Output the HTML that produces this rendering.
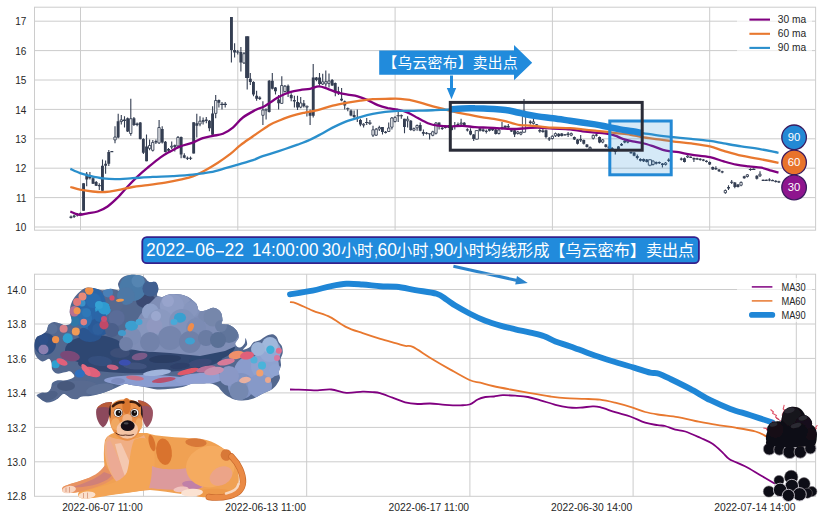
<!DOCTYPE html>
<html><head><meta charset="utf-8"><title>chart</title>
<style>html,body{margin:0;padding:0;background:#fff}body{width:822px;height:520px;overflow:hidden;font-family:"Liberation Sans",sans-serif}svg{display:block}</style></head>
<body>
<svg width="822" height="520" viewBox="0 0 822 520" font-family="Liberation Sans, sans-serif">
<rect width="822" height="520" fill="#fff"/>
<path d="M34.5 227H815.6M34.5 197.6H815.6M34.5 168.2H815.6M34.5 138.8H815.6M34.5 109.4H815.6M34.5 80H815.6M34.5 50.6H815.6M34.5 21.2H815.6M80.5 7.2V230.2M237.8 7.2V230.2M395.1 7.2V230.2M552.4 7.2V230.2M709.7 7.2V230.2M34.5 461.8H815.6M34.5 427.4H815.6M34.5 392.9H815.6M34.5 358.4H815.6M34.5 324H815.6M34.5 289.5H815.6M143.5 274.2V496.3M306.7 274.2V496.3M469.9 274.2V496.3M633.1 274.2V496.3M796.3 274.2V496.3" stroke="#cccccc" stroke-width="1" fill="none"/>
<g id="candles">
<path d="M71 215.5V218.5M74.1 214.5V218M77.3 213V216.5M80.4 212.5V215M83.6 183.2V210.8M86.7 171.9V186.3M89.9 171.9V179.4M93 177V184M96.2 181V186M99.3 183.2V190M102.5 159.4V190.7M105.6 160.6V173.8M108.8 150V166M111.9 151V152M115 126.3V143.3M118.2 113.8V138.2M121.3 115V124.5M124.5 116.3V127.6M127.6 117.5V132M130.8 98.8V135.7M133.9 117V126M137.1 122.6V126.3M140.2 122V139.5M143.4 138.2V153.9M146.5 134.5V161.3M149.6 139.5V150.2M152.8 140V151.5M155.9 139.5V143.9M159.1 120V143.9M162.2 126.3V143.5M165.4 141V152.5M168.5 148V152.5M171.7 141.4V148.9M174.8 144.5V151.4M178 136V147M181.1 136.5V158.3M184.3 153.3V158.3M187.4 156.5V160M185.7 158.3H189.1M190.5 156.4V160M188.8 158.3H192.2M193.7 122.3V153.6M196.8 113.8V137.6M200 116.3V126.3M203.1 117.6V124.4M206.3 116.9V123.2M209.4 120V131.3M212.6 106.3V135.1M215.7 95V118.2M218.9 99.4V107.5M222 101.9V109.4M220.3 104.4H223.7M225.2 101.9V107.5M223.5 104.4H226.9M231.4 16.9V62.6M234.6 43.2V57.6M237.7 50V54.5M236 52H239.4M240.9 47V71.4M244 52V64M247.2 36.3V89.4M250.3 73.1V85M253.5 81.3V96.3M256.6 90.7V100.7M259.8 96.3V100M262.9 101.3V125.1M266.1 108.8V119.5M269.2 80V112.6M272.3 73.1V89.4M275.5 86.9V94.4M278.6 95V109.5M281.8 76.3V103.8M284.9 85V92.6M288.1 84.4V96.9M291.2 93.2V101.3M294.4 95.7V107.6M297.5 95.7V110.1M300.7 97V108.2M303.8 100V107.6M306.9 105.7V116.4M310.1 109.5V125.1M313.2 63.9V117.6M316.4 76.9V81.3M319.5 73.1V85.7M322.7 73.8V85M325.8 70.5V86.8M329 73.6V87.4M332.1 79V86M335.3 82.4V96.2M338.4 86.8V94.9M341.6 88V101.2M344.7 100.6V109.4M347.8 107.5V111.2M346.1 108.7H349.5M351 109.4V116.2M354.1 110.6V120M357.3 109.4V121.9M360.4 118.8V126.3M363.6 123.2V127.5M366.7 118.1V125M365 122.5H368.4M369.9 120V125M368.2 123.1H371.6M373 125.7V137M376.2 128V136M379.3 125.7V131M382.5 127V134.5M385.6 131V133.5M388.7 122.6V132M391.9 117V129.5M395 116.2V122.5M398.2 111.9V121.9M396.5 115.7H399.9M401.3 114.4V118.8M399.6 115.7H403M404.5 118.8V133.2M407.6 116.3V127.6M410.8 120V130.7M413.9 127.6V131.3M417.1 124.4V130.7M420.2 122.6V131.3M423.4 129.4V135.7M426.5 132V134.5M424.8 133.2H428.2M429.6 133.2V139.5M427.9 133.8H431.3M432.8 130.7V136.3M435.9 122V134.5M439.1 122.6V129.4M442.2 126.5V130M445.4 125.5V128.5M448.5 125V128M451.7 126.5V130.5M454.8 122V129.5M458 122.5V126.5M461.1 118.8V125M464.2 122V126M467.4 128.3V131.5M470.5 128.3V135.2M473.7 134V140.9M476.8 130.2V139.6M480 127.7V131.4M483.1 128.3V132.1M486.3 129.6V133.4M489.4 128.5V131.5M492.6 128.5V131M495.7 129V134.6M498.9 129V134.6M502 122V129.6M505.1 125.5V128.5M508.3 124V128.3M511.4 129.5V132M514.6 129.6V137M517.7 131V134.6M520.9 131.4V135.2M524 98.9V132.7M530.3 120.2V124.6M533.5 118.3V124.6M536.6 124V125.2M539.8 129V132.7M542.9 129V132.7M546 129.6V138.4M549.2 137.1V140.9M552.3 135.2V139.6M555.5 132.6V137M558.6 133.2V136.9M561.8 133V136.5M564.9 134V135.5M568.1 132V137M571.2 132.5V136.3M574.4 136.5V140M577.5 139V144.5M580.7 135V142M583.8 139.5V144.4M586.9 144V147.6M590.1 146.5V150M593.2 134.5V139.4M596.4 134V136.5M599.5 136.4V143.2M602.7 139V143.2M605.8 144V147.6M609 146V149M612.1 147V151M615.3 148.9V154.5M618.4 146V150.7M621.5 143V146M624.7 140.2V143.2M627.8 140.2V143.2M631 151.5V153.8M634.1 152V156.3M637.3 154.5V159.5M640.4 158.3V161.4M643.6 158.5V162M646.7 159V162.6M649.9 159V166.3M653 160.2V165.6M656.2 161.5V164.5M659.3 161.5V164M662.4 163V167.5M665.6 162V165.6M668.7 158.2V162M681.3 157.5V160.5M684.5 157.6V162.6M687.6 155.2V158M690.8 156.3V158M693.9 157.5V162M697.1 157.7V160M700.2 158.3V160.7M703.3 159V161.3M706.5 160.2V162.6M709.6 161.5V165M712.8 166.5V170M715.9 166.3V170.1M719.1 169V172M722.2 170.8V173.2M725.4 189.5V193.8M728.5 185.2V190.1M731.7 180V184M730 182.2H733.4M734.8 182V188.2M738 184V187.6M741.1 181.5V186.3M744.2 175.8V178.8M747.4 174V177.6M750.5 168.2V170.7M748.8 169.5H752.2M753.7 168.2V170.1M752 169.4H755.4M756.8 175.2V179.4M760 171.3V177M763.1 179.5V180.7M766.3 179.5V180.7M769.4 178.2V181.3M767.7 180H771.1M772.6 179.5V181M775.7 180.2V182.5M778.9 180.8V183.1" stroke="#343e52" stroke-width="1.1" fill="none"/>
<path d="M69.5 216.6h2.9v1.3h-2.9zM82.1 183.2h2.9v27.6h-2.9zM85.3 173.8h2.9v5.6h-2.9zM88.4 175h2.9v3.2h-2.9zM91.6 178.2h2.9v5.6h-2.9zM94.7 182h2.9v3.7h-2.9zM97.9 185h2.9v1.3h-2.9zM101 165.7h2.9v25h-2.9zM104.2 163.8h2.9v1.9h-2.9zM107.3 152h2.9v11.8h-2.9zM110.4 151h2.9v1.3h-2.9zM116.7 121.3h2.9v16.3h-2.9zM123 119.5h2.9v1.5h-2.9zM126.2 118.2h2.9v13.2h-2.9zM132.5 118.2h2.9v6.9h-2.9zM135.6 123.5h2.9v1.5h-2.9zM138.8 122.6h2.9v16.3h-2.9zM141.9 138.9h2.9v13.8h-2.9zM145.1 146.4h2.9v14.9h-2.9zM154.5 141h2.9v1.5h-2.9zM160.8 129h2.9v13.5h-2.9zM163.9 141.7h2.9v10.3h-2.9zM167.1 148.9h2.9v1.9h-2.9zM179.7 137h2.9v17.5h-2.9zM182.8 155.2h2.9v2.5h-2.9zM192.2 122.3h2.9v31.3h-2.9zM195.4 123.2h2.9v2.5h-2.9zM204.8 119.5h2.9v1.5h-2.9zM208 120.7h2.9v7.5h-2.9zM211.1 113.5h2.9v21.3h-2.9zM217.4 100h2.9v2.8h-2.9zM230 16.9h2.9v33.2h-2.9zM233.1 50.1h2.9v2.5h-2.9zM239.4 52h2.9v10.6h-2.9zM245.1 36.3h4.2v41.8h-4.2zM248.9 78.8h2.9v3.1h-2.9zM252 81.9h2.9v12.5h-2.9zM255.2 95.7h2.9v3.1h-2.9zM258.3 97.5h2.9v1.5h-2.9zM267.7 80.7h2.9v31.3h-2.9zM270.9 80.7h2.9v8.1h-2.9zM274 87.5h2.9v3.8h-2.9zM277.2 99.4h2.9v3.8h-2.9zM286.6 85.7h2.9v6.9h-2.9zM289.8 95h2.9v3.2h-2.9zM292.9 100h2.9v1.5h-2.9zM296.1 102h2.9v5.6h-2.9zM302.4 103.2h2.9v3.1h-2.9zM308.6 112h2.9v3.7h-2.9zM311.8 77.5h2.9v38.2h-2.9zM314.9 77.5h2.9v2.5h-2.9zM318.1 77.5h2.9v6.5h-2.9zM330.7 79.9h2.9v5.6h-2.9zM333.8 83h2.9v9.4h-2.9zM337 91.2h2.9v1.9h-2.9zM340.1 98.7h2.9v1.9h-2.9zM343.3 101.2h2.9v4.4h-2.9zM349.5 110.6h2.9v5h-2.9zM352.7 115h2.9v1.9h-2.9zM355.8 117h2.9v1.5h-2.9zM359 120h2.9v4.4h-2.9zM381 127h2.9v5h-2.9zM384.1 131.7h2.9v1.3h-2.9zM403 118.8h2.9v8.2h-2.9zM409.3 120.7h2.9v9.4h-2.9zM418.8 125h2.9v5.7h-2.9zM421.9 132h2.9v1.8h-2.9zM437.6 122.6h2.9v3.1h-2.9zM440.8 127.8h2.9v1.3h-2.9zM443.9 126.6h2.9v1.3h-2.9zM447.1 126h2.9v1.3h-2.9zM450.2 127h2.9v3h-2.9zM453.4 125.5h2.9v1.5h-2.9zM456.5 124h2.9v1.3h-2.9zM462.8 122.7h2.9v2.5h-2.9zM465.9 129.3h2.9v1.3h-2.9zM469.1 130.8h2.9v3.8h-2.9zM472.2 134.6h2.9v4.4h-2.9zM478.5 128.3h2.9v2.5h-2.9zM481.7 129.5h2.9v1.5h-2.9zM484.8 130.8h2.9v1.3h-2.9zM488 129h2.9v1.8h-2.9zM491.1 129h2.9v1.3h-2.9zM494.3 129.6h2.9v4.4h-2.9zM500.6 127h2.9v1.5h-2.9zM503.7 125.8h2.9v1.9h-2.9zM506.8 126h2.9v1.5h-2.9zM510 130.2h2.9v1.3h-2.9zM513.1 130.2h2.9v4.4h-2.9zM528.9 121.5h2.9v1.5h-2.9zM535.2 124.2h2.9v1.3h-2.9zM538.3 130h2.9v1.5h-2.9zM541.4 130.5h2.9v1.5h-2.9zM544.6 130.2h2.9v6.9h-2.9zM547.7 138.2h2.9v1.3h-2.9zM557.2 133.8h2.9v2.5h-2.9zM560.3 133.5h2.9v2.5h-2.9zM563.5 134.3h2.9v1.3h-2.9zM566.6 133.5h2.9v1.5h-2.9zM572.9 137h2.9v2.5h-2.9zM576.1 139.5h2.9v4.3h-2.9zM579.2 139h2.9v1.5h-2.9zM582.3 140h2.9v3.8h-2.9zM585.5 144.5h2.9v2.5h-2.9zM594.9 134.5h2.9v1.3h-2.9zM598.1 137h2.9v5.6h-2.9zM604.4 144.5h2.9v2.5h-2.9zM607.5 146.8h2.9v1.4h-2.9zM610.7 148h2.9v2h-2.9zM613.8 150h2.9v2h-2.9zM617 146.4h2.9v3.7h-2.9zM620.1 144h2.9v1.5h-2.9zM623.2 140.7h2.9v1.9h-2.9zM629.5 152h2.9v1.3h-2.9zM632.7 152.6h2.9v3.1h-2.9zM635.8 156h2.9v2h-2.9zM639 158.9h2.9v1.9h-2.9zM642.1 159h2.9v2.3h-2.9zM645.3 159.5h2.9v2.5h-2.9zM654.7 162h2.9v1.8h-2.9zM657.9 162h2.9v1.3h-2.9zM661 163.5h2.9v1.5h-2.9zM667.3 159.5h2.9v1.5h-2.9zM679.9 158.5h2.9v1.3h-2.9zM683 158.2h2.9v3.8h-2.9zM689.3 156.8h2.9v1.3h-2.9zM692.5 158h2.9v1.5h-2.9zM695.6 158.2h2.9v1.3h-2.9zM698.7 158.8h2.9v1.3h-2.9zM701.9 159.5h2.9v1.3h-2.9zM705 160.7h2.9v1.3h-2.9zM708.2 162h2.9v2.4h-2.9zM711.3 167h2.9v2.5h-2.9zM714.5 168h2.9v1.3h-2.9zM717.6 169.5h2.9v1.8h-2.9zM720.8 171.3h2.9v1.3h-2.9zM727.1 187h2.9v1.5h-2.9zM733.4 182.6h2.9v4.4h-2.9zM736.5 184.5h2.9v2.5h-2.9zM742.8 176.3h2.9v1.9h-2.9zM755.4 175.7h2.9v3.1h-2.9zM761.7 179.7h2.9v1.3h-2.9zM764.8 179.7h2.9v1.3h-2.9zM771.1 180h2.9v1.3h-2.9zM774.3 180.7h2.9v1.3h-2.9zM777.4 181.3h2.9v1.3h-2.9z" fill="#343e52"/>
<path d="M73 215.9h2.3v0.6h-2.3zM76.1 214.2h2.3v0.8h-2.3zM79.3 213.4h2.3v0.6h-2.3zM113.9 137h2.3v2.9h-2.3zM120.2 119.9h2.3v1.7h-2.3zM129.6 118.7h2.3v14.8h-2.3zM148.5 145.5h2.3v2.9h-2.3zM151.6 142.4h2.3v7.9h-2.3zM157.9 127.5h2.3v15.4h-2.3zM170.5 146.2h2.3v0.9h-2.3zM173.7 145.5h2.3v1h-2.3zM176.8 137.4h2.3v8.5h-2.3zM198.8 121.2h2.3v2.8h-2.3zM202 120.5h2.3v1.1h-2.3zM214.6 100.5h2.3v12.9h-2.3zM242.9 53.7h2.3v9.2h-2.3zM261.8 110h2.3v5.3h-2.3zM264.9 109.2h2.3v1h-2.3zM280.6 85.5h2.3v17.9h-2.3zM283.8 86.2h2.3v5.3h-2.3zM299.5 103h2.3v4.1h-2.3zM305.8 106.2h2.3v1h-2.3zM321.5 81.8h2.3v2.2h-2.3zM324.7 81.7h2.3v2.2h-2.3zM327.8 81h2.3v2.3h-2.3zM362.4 124.2h2.3v0.9h-2.3zM371.9 129.8h2.3v5.4h-2.3zM375 129.2h2.3v6h-2.3zM378.2 127.5h2.3v1.5h-2.3zM387.6 128h2.3v3.5h-2.3zM390.7 118h2.3v9.2h-2.3zM393.9 117.4h2.3v4.1h-2.3zM406.5 119.2h2.3v1.6h-2.3zM412.8 128.6h2.3v1.6h-2.3zM415.9 125.5h2.3v2.3h-2.3zM431.6 131.8h2.3v3.5h-2.3zM434.8 123h2.3v10.3h-2.3zM460 123h2.3v0.9h-2.3zM475.2 130.6h3.2v8.5h-3.2zM497.7 130h2.3v3.5h-2.3zM516.6 131.9h2.3v1.6h-2.3zM519.7 132.4h2.3v1.7h-2.3zM522.4 111.2h3.2v21h-3.2zM532.3 121.9h2.3v1.7h-2.3zM551.2 136.3h2.3v2.2h-2.3zM554.3 133.6h2.3v2.2h-2.3zM570.1 133.6h2.3v1.6h-2.3zM588.9 147.4h2.3v1.6h-2.3zM592.1 135.4h2.3v2.9h-2.3zM601.5 139.9h2.3v2.2h-2.3zM626.7 141.1h2.3v1h-2.3zM648.3 159.8h3.2v5.4h-3.2zM651.9 161.1h2.3v3.4h-2.3zM664.4 163h2.3v1.5h-2.3zM686.5 156.1h2.3v0.9h-2.3zM724.2 190.5h2.3v2.2h-2.3zM739.9 182.4h2.3v2.8h-2.3zM746.2 174.8h2.3v1.7h-2.3zM758.8 174.2h2.3v1.6h-2.3z" fill="#fff" stroke="#343e52" stroke-width="0.9"/>
</g>
<g fill="none" stroke-linejoin="round" stroke-linecap="butt">
<path d="M70.3 211.5C71.1 211.8 73.4 212.9 75 213.5C76.6 214.1 77.9 214.8 80 214.8C82.1 214.8 84.7 213.9 87.6 213.3C90.5 212.8 94.3 212.6 97.6 211.5C100.9 210.4 104.3 208.8 107.6 206.5C110.9 204.2 114.2 201 117.6 197.7C120.9 194.4 124.4 190.1 127.7 186.5C131.1 182.9 134.4 179.5 137.7 176.4C141 173.3 143.9 170.8 147.7 167.7C151.4 164.6 156.4 160.3 160.2 157.6C164 154.9 167 153.3 170.3 151.4C173.7 149.5 176.6 147.9 180.3 146.4C184.1 144.9 189.1 144 192.8 142.6C196.6 141.2 199.5 139.2 202.8 138.1C206.2 137 209.6 136.5 212.9 135.8C216.2 135.1 219.6 135.2 222.9 133.8C226.2 132.4 229.6 130.3 232.9 127.6C236.2 124.9 239.1 120.4 242.9 117.5C246.7 114.6 252.2 111.8 255.5 110C258.9 108.2 260.6 108.2 263 107C265.4 105.8 267.2 104.4 270 102.6C272.8 100.8 276.7 98 280 96.3C283.3 94.5 286.7 93.1 290 92.1C293.3 91.1 296.7 90.6 300 90.1C303.3 89.5 306.9 89.4 310 88.8C313.1 88.2 315.9 86.3 318.9 86.3C321.8 86.3 324.6 87.8 327.7 88.8C330.8 89.8 334.4 91.6 337.7 92.6C341 93.6 344.4 94 347.7 94.6C351 95.2 354.3 95.4 357.7 96.3C361.1 97.2 364.4 98.6 367.8 100.1C371.2 101.6 374.5 103.8 377.8 105.1C381.1 106.4 384.5 107.3 387.8 108.1C391.1 108.8 394.5 108.8 397.8 109.6C401.1 110.3 404.5 111.2 407.9 112.6C411.2 114 414.6 116.3 417.9 118.1C421.2 119.9 424.6 121.9 427.9 123.2C431.2 124.5 434.2 125.2 437.9 125.7C441.6 126.2 445.9 126.5 450 126.5C454.1 126.5 458.3 125.7 462.5 125.8C466.7 125.9 470.8 126.8 475 127.1C479.2 127.4 483.4 127.5 487.6 127.7C491.8 127.9 495.8 128.1 500 128.3C504.2 128.5 508.5 129 512.7 129C516.9 129 521 128.6 525.2 128.3C529.4 128.1 533.1 127.5 537.7 127.5C542.3 127.5 547.6 128.3 553 128.6C558.4 128.9 565.1 128.9 570 129.4C574.9 129.9 578.4 130.8 582.6 131.3C586.8 131.8 590.9 132.2 595.1 132.6C599.3 133 604.4 133.3 607.7 133.8C611.1 134.3 612.7 134.9 615.2 135.7C617.7 136.5 619.8 137.9 622.7 138.8C625.6 139.7 629.4 140.6 632.7 141.3C636 142 638.8 142.2 642.3 143C645.8 143.8 649.6 145.1 653.6 146.4C657.6 147.7 661.9 149.7 666.1 150.7C670.3 151.7 674.5 151.5 678.7 152.2C682.9 152.9 686 153.9 691.2 154.7C696.4 155.5 704.6 156.1 710 157.2C715.4 158.3 719.4 160.2 723.8 161.4C728.2 162.7 732.1 163.9 736.3 164.7C740.5 165.5 744.6 165.9 748.8 166.4C753 166.9 757.6 167 761.4 167.7C765.2 168.4 768.5 169.9 771.4 170.7C774.2 171.5 777.3 172.3 778.5 172.6" stroke="#800080" stroke-width="2.3"/>
<path d="M70.3 187C71.9 187.4 76.3 188.9 80 189.7C83.7 190.4 88.4 191.1 92.6 191.5C96.8 191.9 100.9 192.2 105.1 192C109.3 191.8 113 191 117.6 190.2C122.2 189.4 127.7 187.8 132.7 187C137.7 186.2 142.3 185.9 147.7 185.2C153.1 184.5 159.9 183.6 165.3 182.7C170.7 181.8 175.7 180.8 180.3 179.7C184.9 178.6 188.6 178 192.8 176.4C197 174.8 201.2 172.5 205.4 170.2C209.6 167.9 213.7 165.4 217.9 162.7C222.1 160 226.6 156.8 230.4 153.9C234.2 151 236.7 148 240.5 145.1C244.3 142.2 249.8 138.6 253 136.3C256.2 134 257.2 133.3 260 131.4C262.8 129.5 266.7 126.6 270 124.7C273.3 122.8 276.2 121.7 280 120.2C283.8 118.7 288.4 116.9 292.6 115.6C296.8 114.3 300.9 113.5 305.1 112.6C309.3 111.7 313 111.3 317.6 110.1C322.2 108.9 327.7 106.8 332.7 105.6C337.7 104.3 343.1 103.4 347.7 102.6C352.3 101.8 356.1 101.2 360.3 100.6C364.5 100 368.6 99.4 372.8 99.1C377 98.8 380.7 98.8 385.3 98.8C389.9 98.8 396.2 98.6 400.4 98.8C404.6 99 407.1 99.5 410.4 100.1C413.7 100.7 416.6 101.5 420.4 102.6C424.1 103.6 428.7 105.2 432.9 106.4C437.1 107.6 441.4 108.5 445.5 109.6C449.6 110.6 453.6 111.9 457.5 112.7C461.4 113.5 464.8 113.9 468.8 114.6C472.8 115.3 477.1 116.4 481.3 117.1C485.5 117.8 490.1 118.3 493.9 118.9C497.7 119.5 500.8 120.1 503.9 120.8C507 121.5 510 122.6 512.7 123.3C515.4 124 517.3 124.8 520.2 125.2C523.1 125.6 526.5 125.3 530.2 125.6C534 125.9 538.9 126.4 542.7 126.8C546.5 127.2 548.5 127.5 553 127.7C557.5 127.9 565.1 127.9 570 128.2C574.9 128.5 578.4 129 582.6 129.4C586.8 129.8 590.9 130.3 595.1 130.7C599.3 131.1 604.2 131.5 607.7 131.9C611.2 132.3 612.2 132.6 616 133.1C619.8 133.6 626.1 134.1 630.5 134.8C634.9 135.5 637.6 136.3 642.3 137.1C647 137.9 653 138.6 658.6 139.4C664.2 140.2 670.8 141.2 676.2 141.9C681.6 142.6 685.6 142.7 691.2 143.4C696.8 144.2 704.6 145.2 710 146.4C715.4 147.7 718.6 149.4 723.8 150.9C729 152.4 735.4 154.4 741.3 155.7C747.1 157 752.7 157.7 758.9 158.9C765.1 160.1 775.2 162.2 778.5 162.9" stroke="#e8782f" stroke-width="2.3"/>
<path d="M70.3 168.9C71.9 169.6 76.7 172 80 173.2C83.3 174.4 86.2 175 90 175.9C93.8 176.8 98.4 177.9 102.6 178.4C106.8 178.9 110.1 179.2 115.1 179.2C120.1 179.2 126.4 178.6 132.7 178.2C139 177.8 146 177.2 152.7 176.9C159.4 176.6 166.1 176.6 172.8 176.2C179.5 175.8 186.5 175.4 192.8 174.7C199.1 174 205 173.3 210.4 172.2C215.8 171.1 220.4 169.6 225.4 168.2C230.4 166.8 235.9 165.2 240.5 163.9C245.1 162.6 249.8 161.3 253 160.2C256.2 159.1 256.8 158.4 260 157.2C263.2 156 268.3 154.6 272.5 153.2C276.7 151.8 280.9 150.4 285.1 149C289.3 147.6 293.4 146.2 297.6 144.7C301.8 143.1 305.9 141.6 310.1 139.7C314.3 137.8 318.5 135.4 322.7 133.2C326.9 131 331 128.4 335.2 126.4C339.4 124.4 343.5 122.5 347.7 120.9C351.9 119.4 356.1 118.3 360.3 117.1C364.5 115.9 368.6 114.8 372.8 113.9C377 113 381.1 112.4 385.3 111.9C389.5 111.4 393.6 111.1 397.8 110.9C402 110.7 406.2 111 410.4 110.9C414.6 110.9 418.7 110.7 422.9 110.6C427.1 110.5 430.9 110.3 435.4 110.1C439.9 109.9 445.5 109.8 450 109.5C454.5 109.2 458.3 108.6 462.5 108.4C466.7 108.2 470.8 108.2 475 108.3C479.2 108.3 483.4 108.5 487.6 108.7C491.8 108.9 496.4 109.2 500 109.5C503.6 109.8 506.1 110 509 110.5C511.9 111 515 111.9 517.7 112.5C520.4 113.1 521.9 113.5 525.2 114.2C528.5 114.9 533.1 115.7 537.7 116.4C542.3 117.1 547.6 117.6 553 118.3C558.4 119 563 119.7 570 120.7C577 121.7 588.8 123.4 595.1 124.4C601.4 125.4 603.5 126.1 607.7 126.9C611.9 127.7 616 128.7 620.2 129.4C624.4 130.1 629 130.7 632.7 131.3C636.5 131.9 638.8 132.6 642.7 133.2C646.6 133.8 650.9 134.4 656 135.1C661.1 135.8 667.7 136.5 673.6 137.1C679.5 137.7 685.1 138.3 691.2 138.9C697.3 139.5 704.6 140.2 710 140.9C715.4 141.7 718.6 142.5 723.8 143.4C729 144.3 735.4 145.5 741.3 146.4C747.1 147.3 752.7 147.8 758.9 148.9C765.1 150 775.2 152.2 778.5 152.8" stroke="#2a8fcc" stroke-width="2.3"/>
</g>
<rect x="609.8" y="121" width="61.4" height="53.8" fill="#2b8fd9" fill-opacity="0.2" stroke="#2389d5" stroke-width="3"/>
<path d="M450 109.5C452.1 109.3 458.3 108.6 462.5 108.4C466.7 108.2 470.8 108.2 475 108.3C479.2 108.3 483.4 108.5 487.6 108.7C491.8 108.9 496.4 109.2 500 109.5C503.6 109.8 506.1 110 509 110.5C511.9 111 515 111.9 517.7 112.5C520.4 113.1 521.9 113.5 525.2 114.2C528.5 114.9 533.1 115.7 537.7 116.4C542.3 117.1 547.6 117.6 553 118.3C558.4 119 563 119.7 570 120.7C577 121.7 588.8 123.4 595.1 124.4C601.4 125.4 603.5 126.1 607.7 126.9C611.9 127.7 616 128.7 620.2 129.4C624.4 130.1 629 130.7 632.7 131.3C636.5 131.9 641 132.9 642.7 133.2" stroke="#1f86d6" stroke-width="6.5" fill="none" stroke-linecap="butt" stroke-linejoin="round"/>
<rect x="450.3" y="102.4" width="191.9" height="47.8" fill="none" stroke="#2a2c38" stroke-width="3"/>
<circle cx="794.1" cy="137.3" r="12.3" fill="#2389d5" stroke="#3b1a5e" stroke-width="1.3"/>
<text x="787.8" y="141" font-size="10.2" fill="#fff" textLength="12.6" lengthAdjust="spacingAndGlyphs">90</text>
<circle cx="794.1" cy="162.4" r="12.3" fill="#e8732b" stroke="#3b1a5e" stroke-width="1.3"/>
<text x="787.8" y="166.1" font-size="10.2" fill="#fff" textLength="12.6" lengthAdjust="spacingAndGlyphs">60</text>
<circle cx="794.1" cy="187.5" r="12.3" fill="#8e158e" stroke="#3b1a5e" stroke-width="1.3"/>
<text x="787.8" y="191.2" font-size="10.2" fill="#fff" textLength="12.6" lengthAdjust="spacingAndGlyphs">30</text>
<rect x="34.5" y="7.2" width="781.1" height="223" fill="none" stroke="#cccccc" stroke-width="1"/>
<rect x="737" y="11" width="75" height="46" fill="#fff" fill-opacity="0.65"/>
<path d="M749.4 19.6H770" stroke="#800080"  stroke-width="2.1"/>
<text x="777.8" y="23" font-size="10.2" fill="#262626">30 ma</text>
<path d="M749.4 33.8H770" stroke="#e8782f"  stroke-width="2.1"/>
<text x="777.8" y="37.2" font-size="10.2" fill="#262626">60 ma</text>
<path d="M749.4 47.9H770" stroke="#2a8fcc"  stroke-width="2.1"/>
<text x="777.8" y="51.3" font-size="10.2" fill="#262626">90 ma</text>
<text x="26.4" y="231.1" font-size="10" fill="#262626" text-anchor="end">10</text>
<text x="26.4" y="201.7" font-size="10" fill="#262626" text-anchor="end">11</text>
<text x="26.4" y="172.3" font-size="10" fill="#262626" text-anchor="end">12</text>
<text x="26.4" y="142.9" font-size="10" fill="#262626" text-anchor="end">13</text>
<text x="26.4" y="113.5" font-size="10" fill="#262626" text-anchor="end">14</text>
<text x="26.4" y="84.1" font-size="10" fill="#262626" text-anchor="end">15</text>
<text x="26.4" y="54.7" font-size="10" fill="#262626" text-anchor="end">16</text>
<text x="26.4" y="25.3" font-size="10" fill="#262626" text-anchor="end">17</text>
<path d="M379.2 50.4H514V45L532.2 62.7L514 80.2V74.8H379.2Z" fill="#218bdc"/>
<path d="M450 75.5H453V88H456.2L451.5 99.2L446.8 88H450Z" fill="#218bdc"/>
<text x="382.4" y="68.2" font-size="14.7" fill="#fff" font-family="&quot;Liberation Sans&quot;, &quot;Noto Sans CJK SC&quot;, sans-serif" textLength="135.2" lengthAdjust="spacing">【乌云密布】卖出点</text>
<rect x="142.3" y="237.1" width="556.6" height="26.1" rx="4.5" fill="#218bdc" stroke="#34208c" stroke-width="1.8"/>
<path d="M453.1 267.8L515.8 281.8L515.2 284.4L527.8 282.9L517 276.1L516.4 278.8L453.7 264.8Z" fill="#2b84cc"/>
<text x="146" y="255.7" font-size="17.5" fill="#fff" textLength="38.9" lengthAdjust="spacingAndGlyphs">2022</text>
<text x="195.2" y="255.7" font-size="17.5" fill="#fff" textLength="19.5" lengthAdjust="spacingAndGlyphs">06</text>
<text x="224.6" y="255.7" font-size="17.5" fill="#fff" textLength="19.5" lengthAdjust="spacingAndGlyphs">22</text>
<path d="M185.6 250.9h8v1.5h-8zM216 250.9h8v1.5h-8z" fill="#fff"/>
<text x="252" y="255.7" font-size="17.5" fill="#fff" textLength="66.5" lengthAdjust="spacingAndGlyphs">14:00:00</text>
<text x="322" y="255.7" font-size="17.5" fill="#fff" textLength="18.6" lengthAdjust="spacingAndGlyphs">30</text>
<text x="340.9" y="256" font-size="16.2" fill="#fff" font-family="&quot;Liberation Sans&quot;, &quot;Noto Sans CJK SC&quot;, sans-serif" textLength="32.4" lengthAdjust="spacing">小时</text>
<text x="374" y="255.7" font-size="17.5" fill="#fff" textLength="4" lengthAdjust="spacingAndGlyphs">,</text>
<text x="377.6" y="255.7" font-size="17.5" fill="#fff" textLength="19.4" lengthAdjust="spacingAndGlyphs">60</text>
<text x="396" y="256" font-size="16.2" fill="#fff" font-family="&quot;Liberation Sans&quot;, &quot;Noto Sans CJK SC&quot;, sans-serif" textLength="32.4" lengthAdjust="spacing">小时</text>
<text x="429.5" y="255.7" font-size="17.5" fill="#fff" textLength="4" lengthAdjust="spacingAndGlyphs">,</text>
<text x="434" y="255.7" font-size="17.5" fill="#fff" textLength="19.4" lengthAdjust="spacingAndGlyphs">90</text>
<text x="452.6" y="256" font-size="16.2" fill="#fff" font-family="&quot;Liberation Sans&quot;, &quot;Noto Sans CJK SC&quot;, sans-serif" textLength="241.7" lengthAdjust="spacing">小时均线形成【乌云密布】卖出点</text>
<g fill="none" stroke-linejoin="round">
<path d="M290 389.5C292.5 389.6 300.4 389.7 305 389.8C309.6 389.9 313.2 390.4 317.6 390.3C322 390.2 326.6 389.1 331.4 389.5C336.2 389.9 341.2 392.4 346.4 392.8C351.6 393.2 358.3 391.7 362.7 391.6C367.1 391.5 369.8 391.8 372.7 392.1C375.6 392.4 376.7 392.3 380 393.2C383.3 394.1 388.3 396.2 392.5 397.7C396.7 399.2 400.9 401.2 405.1 402.3C409.3 403.4 413.4 403.8 417.6 404C421.8 404.2 425.5 403.4 430.1 403.5C434.7 403.6 440.2 404.5 445.2 404.8C450.2 405.1 456.1 405.4 460.2 405.3C464.2 405.2 466.6 405.5 469.5 404.5C472.4 403.5 475.1 400.8 477.7 399.5C480.3 398.2 482.6 397.5 485.3 397C488 396.5 491.1 396.8 494 396.5C496.9 396.2 499.2 395.3 502.8 395.2C506.4 395.1 511.1 395.4 515.3 395.7C519.5 396 523.7 396.2 527.9 397C532.1 397.8 535.8 399 540.4 400.3C545 401.6 550.8 403.6 555.4 404.8C560 406 563.9 406.8 568 407.3C572.1 407.8 575.9 407.9 580 407.7C584.1 407.5 589.3 406.5 592.6 406.4C595.9 406.3 596.2 406.2 600 407.2C603.8 408.2 610.1 410.6 615.1 412.2C620.1 413.8 625.2 414.8 630.2 416.5C635.2 418.2 640.6 421.2 645.2 422.7C649.8 424.1 654.4 424.6 657.7 425.2C661 425.8 662.3 425.2 665.2 426C668.1 426.8 671.9 428.8 675.3 429.7C678.6 430.6 681.1 430.1 685.3 431.5C689.5 432.9 695.8 435.8 700.3 437.8C704.8 439.9 708.7 441.3 712.5 443.8C716.3 446.3 720.1 450.2 722.9 452.8C725.7 455.4 725.8 456.9 729.5 459.2C733.2 461.4 739.9 463.7 745 466.3C750.1 468.9 755 472.1 760 475C765 477.9 772.5 482.3 775 483.8" stroke="#800080" stroke-width="1.8"/>
<path d="M290 302.1C291.1 302.3 292.5 301.9 296.3 303.3C300.1 304.7 307 308.3 312.6 310.6C318.2 312.9 324.5 314.4 330.1 317.1C335.7 319.9 341 324.4 346.4 327.1C351.8 329.8 357 331.2 362.7 333.2C368.4 335.2 374.7 337.2 380.3 338.9C385.9 340.6 392.3 342.2 396.5 343.4C400.7 344.6 402.6 345.3 405.3 345.9C408 346.5 408.6 344.9 412.8 346.9C417 348.9 424.1 354.1 430.4 357.9C436.7 361.7 443.9 365.9 450.4 369.6C456.9 373.3 464.5 377.8 469.5 380C474.5 382.2 476.4 381.7 480.3 382.7C484.2 383.7 487.8 384.9 492.8 386C497.8 387.1 504 388.3 510.3 389.5C516.6 390.7 523.7 392 530.4 393.2C537.1 394.4 544.5 395.7 550.4 396.5C556.2 397.3 559.7 397.8 565.5 398.2C571.3 398.6 579.2 398.6 585 398.9C590.8 399.1 595 399.1 600 399.7C605 400.3 609.6 401.4 615.1 402.7C620.6 404 627.7 406.1 632.7 407.7C637.7 409.2 641 410.9 645.2 412C649.4 413.1 652.3 413.6 657.7 414.5C663.1 415.4 671.5 416.1 677.8 417.2C684.1 418.3 689 419.8 695.3 421C701.6 422.2 708.7 423.6 715.4 424.7C722.1 425.8 728.7 426.6 735.4 427.7C742.1 428.8 750.4 430.1 755.5 431.5C760.6 432.9 764.5 435.5 766.3 436.3" stroke="#e8782f" stroke-width="1.8"/>
<path d="M290 294.3C293.8 293.7 305.9 291.9 312.6 290.6C319.3 289.3 324.5 287.4 330.1 286.3C335.7 285.2 341 284.1 346.4 283.8C351.8 283.5 357 284.1 362.7 284.5C368.4 284.9 374.7 285.9 380.3 286.3C385.9 286.7 390.7 286.2 396.5 286.8C402.3 287.4 408.6 288.9 415.3 290.1C422 291.3 431.4 292.2 436.6 293.8C441.8 295.4 443.3 297.6 446.4 299.5C449.5 301.4 451.3 303.2 455.2 305.5C459.1 307.8 464.5 310.9 469.5 313.5C474.5 316.1 480.2 318.8 485.3 320.8C490.4 322.8 495.3 324.2 500.3 325.6C505.3 327 510.3 328.1 515.3 329.3C520.3 330.5 525.6 331.4 530.4 332.6C535.2 333.8 540 334.8 544.2 336.3C548.4 337.8 551 339.7 555.4 341.4C559.8 343.1 564.7 344.3 570.5 346.4C576.3 348.5 583 351.3 590 353.8C597 356.3 605.3 359 612.6 361.3C619.9 363.6 627.6 365.7 633.9 367.6C640.2 369.5 646.2 371.6 650.2 372.6C654.2 373.6 654.4 372.3 657.7 373.4C661.1 374.4 664.9 376.3 670.3 378.9C675.7 381.5 683.6 385.3 690.3 388.9C697 392.4 703.7 396.9 710.4 400.2C717.1 403.5 723.7 406.4 730.4 408.9C737.1 411.4 743.5 412.9 750.5 415.2C757.5 417.5 768.8 421.3 772.5 422.5" stroke="#1f86d6" stroke-width="5.9" stroke-linecap="round"/>
</g>
<rect x="34.5" y="274.2" width="781.1" height="222.1" fill="none" stroke="#cccccc" stroke-width="1"/>
<rect x="737" y="278" width="75" height="44" fill="#fff" fill-opacity="0.65"/>
<path d="M751.8 286.9H772.4" stroke="#800080" stroke-width="1.5" stroke-linecap="butt"/>
<text x="781.4" y="290.6" font-size="10.4" fill="#262626" textLength="24.3" lengthAdjust="spacingAndGlyphs">MA30</text>
<path d="M751.8 300.9H772.4" stroke="#e8782f" stroke-width="1.5" stroke-linecap="butt"/>
<text x="781.4" y="304.6" font-size="10.4" fill="#262626" textLength="24.3" lengthAdjust="spacingAndGlyphs">MA60</text>
<path d="M751.8 314.9H772.4" stroke="#1f86d6" stroke-width="5.6" stroke-linecap="round"/>
<text x="781.4" y="318.6" font-size="10.4" fill="#262626" textLength="24.3" lengthAdjust="spacingAndGlyphs">MA90</text>
<text x="26.4" y="500.4" font-size="10" fill="#262626" text-anchor="end">12.8</text>
<text x="26.4" y="465.9" font-size="10" fill="#262626" text-anchor="end">13.0</text>
<text x="26.4" y="431.5" font-size="10" fill="#262626" text-anchor="end">13.2</text>
<text x="26.4" y="397" font-size="10" fill="#262626" text-anchor="end">13.4</text>
<text x="26.4" y="362.5" font-size="10" fill="#262626" text-anchor="end">13.6</text>
<text x="26.4" y="328.1" font-size="10" fill="#262626" text-anchor="end">13.8</text>
<text x="26.4" y="293.6" font-size="10" fill="#262626" text-anchor="end">14.0</text>
<text x="142.7" y="511" font-size="10.3" fill="#262626" text-anchor="end">2022-06-07 11:00</text>
<text x="305.9" y="511" font-size="10.3" fill="#262626" text-anchor="end">2022-06-13 11:00</text>
<text x="469.1" y="511" font-size="10.3" fill="#262626" text-anchor="end">2022-06-17 11:00</text>
<text x="632.3" y="511" font-size="10.3" fill="#262626" text-anchor="end">2022-06-30 14:00</text>
<text x="795.5" y="511" font-size="10.3" fill="#262626" text-anchor="end">2022-07-14 14:00</text>
<defs><filter id="bl" x="-0.05" y="-0.05" width="1.1" height="1.1"><feGaussianBlur stdDeviation="0.55"/></filter><clipPath id="clc"><path d="M119.4 290.2C120.6 289.3 117.4 285.8 118.1 283.5C118.8 281.2 120.8 278.1 123.5 276.7C126.2 275.2 130.8 274.8 134.2 274.8C137.5 274.8 141.1 275.5 143.6 276.7C146.1 277.9 147.0 281.2 149.0 282.1C151.0 283.0 154.2 281.0 155.8 282.1C157.4 283.2 158.3 286.6 158.5 288.8C158.7 291.1 156.4 294.2 157.1 295.6C157.8 297.0 160.7 297.0 162.5 296.9C164.3 296.8 165.4 295.2 167.9 294.8C170.4 294.4 173.9 293.9 177.3 294.2C180.7 294.5 185.0 295.3 188.1 296.9C191.2 298.5 194.3 301.4 196.1 303.6C197.9 305.9 197.2 309.3 198.8 310.4C200.4 311.5 203.1 310.8 205.6 310.4C208.1 309.9 211.1 307.5 213.6 307.7C216.1 307.9 218.9 309.7 220.4 311.7C221.9 313.7 222.3 317.8 222.5 319.8C222.7 321.8 220.5 322.9 221.7 323.8C222.9 324.7 227.3 324.1 229.8 325.2C232.3 326.3 235.0 328.6 236.5 330.6C238.0 332.6 238.9 335.1 238.7 337.3C238.5 339.5 235.0 342.3 235.2 344.0C235.4 345.7 238.1 347.7 239.7 347.6C241.3 347.5 243.6 345.0 244.6 343.4C245.6 341.8 245.0 337.9 245.4 338.1C245.8 338.3 247.5 342.5 247.1 344.4C246.7 346.3 242.6 349.2 242.9 349.7C243.2 350.2 247.4 348.8 249.2 347.6C251.0 346.4 251.7 343.5 253.5 342.3C255.3 341.1 257.7 341.2 259.8 340.2C261.9 339.1 264.1 337.0 266.2 336.0C268.3 335.0 270.8 334.1 272.5 334.3C274.2 334.5 275.6 335.7 276.7 337.0C277.8 338.3 278.0 340.7 278.9 342.3C279.8 343.9 281.4 344.7 282.0 346.5C282.6 348.3 282.9 350.8 282.7 352.9C282.4 355.0 280.8 357.1 280.5 359.2C280.2 361.3 281.3 363.5 281.0 365.6C280.7 367.7 279.1 369.8 278.9 371.9C278.7 374.0 280.3 376.2 279.9 378.3C279.5 380.4 277.9 382.8 276.7 384.6C275.5 386.4 274.6 387.5 272.5 388.9C270.4 390.3 267.2 391.5 264.0 393.1C260.8 394.7 257.0 397.2 253.5 398.4C250.0 399.6 246.1 400.3 242.9 400.5C239.7 400.7 237.2 400.3 234.4 399.4C231.6 398.5 228.3 396.8 226.0 395.2C223.7 393.6 222.1 391.3 220.7 389.9C219.3 388.4 219.3 387.6 217.7 386.5C216.1 385.4 213.4 384.1 211.2 383.6C208.9 383.1 206.7 383.5 204.2 383.5C201.7 383.5 198.5 383.5 196.3 383.6C194.1 383.7 193.1 383.4 190.8 384.0C188.5 384.6 186.1 386.2 182.7 387.0C179.3 387.8 174.9 388.4 170.6 388.8C166.3 389.2 161.6 389.8 157.1 389.5C152.6 389.2 148.1 387.6 143.6 386.8C139.1 386.0 133.4 385.3 130.2 384.8C127.0 384.3 126.5 383.5 124.2 384.0C121.9 384.5 118.8 386.6 116.1 387.8C113.4 389.0 110.8 390.1 108.1 391.1C105.4 392.1 102.9 393.0 100.0 393.8C97.1 394.6 93.8 395.4 90.6 395.9C87.4 396.3 83.3 395.9 81.1 396.5C78.8 397.1 78.9 399.0 77.1 399.2C75.3 399.4 72.7 398.8 70.4 397.9C68.2 397.0 65.9 393.6 63.6 393.8C61.4 394.0 59.6 397.7 56.9 399.2C54.2 400.7 50.4 402.8 47.5 402.6C44.6 402.4 41.2 399.1 39.4 397.9C37.6 396.7 36.2 396.1 36.7 395.2C37.2 394.3 40.3 392.9 42.1 392.5C43.9 392.1 46.0 393.2 47.5 392.5C49.0 391.8 50.1 390.1 50.9 388.5C51.7 386.9 51.2 384.5 52.2 383.1C53.2 381.8 55.0 380.8 56.9 380.4C58.8 379.9 61.4 380.6 63.6 380.4C65.9 380.2 68.6 379.7 70.4 379.0C72.2 378.3 74.4 377.5 74.4 376.3C74.4 375.1 72.0 372.3 70.4 371.6C68.8 370.9 67.2 372.0 65.0 372.3C62.8 372.6 59.0 374.1 56.9 373.6C54.8 373.2 53.1 371.4 52.2 369.6C51.3 367.8 52.1 364.7 51.5 362.9C50.9 361.1 50.4 359.0 48.8 358.8C47.2 358.6 44.3 362.2 42.1 361.5C39.9 360.8 36.6 357.7 35.4 354.8C34.1 351.9 34.4 346.9 34.6 344.0C34.8 341.1 35.5 338.9 36.7 337.3C38.0 335.7 40.4 335.7 42.1 334.6C43.8 333.5 45.6 332.3 46.7 330.6C47.8 328.9 47.5 326.0 48.8 324.6C50.0 323.2 52.4 322.2 54.2 322.0C56.0 321.8 57.8 322.8 59.6 323.3C61.4 323.8 63.2 325.1 65.0 325.2C66.8 325.3 69.3 324.7 70.4 323.8C71.5 322.9 71.8 321.6 71.7 319.8C71.6 318.0 70.0 315.4 69.8 313.1C69.6 310.9 69.9 308.6 70.4 306.3C71.0 304.1 72.0 301.6 73.1 299.6C74.2 297.6 75.5 295.9 77.1 294.2C78.7 292.5 80.7 290.5 82.5 289.4C84.3 288.3 85.9 287.7 87.9 287.5C89.9 287.3 92.1 287.9 94.6 288.3C97.1 288.8 100.0 290.1 102.7 290.2C105.4 290.3 108.0 288.8 110.8 288.8C113.6 288.8 118.2 291.1 119.4 290.2Z"/></clipPath></defs>
<g id="cloud" filter="url(#bl)">
<path d="M119.4 290.2C120.6 289.3 117.4 285.8 118.1 283.5C118.8 281.2 120.8 278.1 123.5 276.7C126.2 275.2 130.8 274.8 134.2 274.8C137.5 274.8 141.1 275.5 143.6 276.7C146.1 277.9 147.0 281.2 149.0 282.1C151.0 283.0 154.2 281.0 155.8 282.1C157.4 283.2 158.3 286.6 158.5 288.8C158.7 291.1 156.4 294.2 157.1 295.6C157.8 297.0 160.7 297.0 162.5 296.9C164.3 296.8 165.4 295.2 167.9 294.8C170.4 294.4 173.9 293.9 177.3 294.2C180.7 294.5 185.0 295.3 188.1 296.9C191.2 298.5 194.3 301.4 196.1 303.6C197.9 305.9 197.2 309.3 198.8 310.4C200.4 311.5 203.1 310.8 205.6 310.4C208.1 309.9 211.1 307.5 213.6 307.7C216.1 307.9 218.9 309.7 220.4 311.7C221.9 313.7 222.3 317.8 222.5 319.8C222.7 321.8 220.5 322.9 221.7 323.8C222.9 324.7 227.3 324.1 229.8 325.2C232.3 326.3 235.0 328.6 236.5 330.6C238.0 332.6 238.9 335.1 238.7 337.3C238.5 339.5 235.0 342.3 235.2 344.0C235.4 345.7 238.1 347.7 239.7 347.6C241.3 347.5 243.6 345.0 244.6 343.4C245.6 341.8 245.0 337.9 245.4 338.1C245.8 338.3 247.5 342.5 247.1 344.4C246.7 346.3 242.6 349.2 242.9 349.7C243.2 350.2 247.4 348.8 249.2 347.6C251.0 346.4 251.7 343.5 253.5 342.3C255.3 341.1 257.7 341.2 259.8 340.2C261.9 339.1 264.1 337.0 266.2 336.0C268.3 335.0 270.8 334.1 272.5 334.3C274.2 334.5 275.6 335.7 276.7 337.0C277.8 338.3 278.0 340.7 278.9 342.3C279.8 343.9 281.4 344.7 282.0 346.5C282.6 348.3 282.9 350.8 282.7 352.9C282.4 355.0 280.8 357.1 280.5 359.2C280.2 361.3 281.3 363.5 281.0 365.6C280.7 367.7 279.1 369.8 278.9 371.9C278.7 374.0 280.3 376.2 279.9 378.3C279.5 380.4 277.9 382.8 276.7 384.6C275.5 386.4 274.6 387.5 272.5 388.9C270.4 390.3 267.2 391.5 264.0 393.1C260.8 394.7 257.0 397.2 253.5 398.4C250.0 399.6 246.1 400.3 242.9 400.5C239.7 400.7 237.2 400.3 234.4 399.4C231.6 398.5 228.3 396.8 226.0 395.2C223.7 393.6 222.1 391.3 220.7 389.9C219.3 388.4 219.3 387.6 217.7 386.5C216.1 385.4 213.4 384.1 211.2 383.6C208.9 383.1 206.7 383.5 204.2 383.5C201.7 383.5 198.5 383.5 196.3 383.6C194.1 383.7 193.1 383.4 190.8 384.0C188.5 384.6 186.1 386.2 182.7 387.0C179.3 387.8 174.9 388.4 170.6 388.8C166.3 389.2 161.6 389.8 157.1 389.5C152.6 389.2 148.1 387.6 143.6 386.8C139.1 386.0 133.4 385.3 130.2 384.8C127.0 384.3 126.5 383.5 124.2 384.0C121.9 384.5 118.8 386.6 116.1 387.8C113.4 389.0 110.8 390.1 108.1 391.1C105.4 392.1 102.9 393.0 100.0 393.8C97.1 394.6 93.8 395.4 90.6 395.9C87.4 396.3 83.3 395.9 81.1 396.5C78.8 397.1 78.9 399.0 77.1 399.2C75.3 399.4 72.7 398.8 70.4 397.9C68.2 397.0 65.9 393.6 63.6 393.8C61.4 394.0 59.6 397.7 56.9 399.2C54.2 400.7 50.4 402.8 47.5 402.6C44.6 402.4 41.2 399.1 39.4 397.9C37.6 396.7 36.2 396.1 36.7 395.2C37.2 394.3 40.3 392.9 42.1 392.5C43.9 392.1 46.0 393.2 47.5 392.5C49.0 391.8 50.1 390.1 50.9 388.5C51.7 386.9 51.2 384.5 52.2 383.1C53.2 381.8 55.0 380.8 56.9 380.4C58.8 379.9 61.4 380.6 63.6 380.4C65.9 380.2 68.6 379.7 70.4 379.0C72.2 378.3 74.4 377.5 74.4 376.3C74.4 375.1 72.0 372.3 70.4 371.6C68.8 370.9 67.2 372.0 65.0 372.3C62.8 372.6 59.0 374.1 56.9 373.6C54.8 373.2 53.1 371.4 52.2 369.6C51.3 367.8 52.1 364.7 51.5 362.9C50.9 361.1 50.4 359.0 48.8 358.8C47.2 358.6 44.3 362.2 42.1 361.5C39.9 360.8 36.6 357.7 35.4 354.8C34.1 351.9 34.4 346.9 34.6 344.0C34.8 341.1 35.5 338.9 36.7 337.3C38.0 335.7 40.4 335.7 42.1 334.6C43.8 333.5 45.6 332.3 46.7 330.6C47.8 328.9 47.5 326.0 48.8 324.6C50.0 323.2 52.4 322.2 54.2 322.0C56.0 321.8 57.8 322.8 59.6 323.3C61.4 323.8 63.2 325.1 65.0 325.2C66.8 325.3 69.3 324.7 70.4 323.8C71.5 322.9 71.8 321.6 71.7 319.8C71.6 318.0 70.0 315.4 69.8 313.1C69.6 310.9 69.9 308.6 70.4 306.3C71.0 304.1 72.0 301.6 73.1 299.6C74.2 297.6 75.5 295.9 77.1 294.2C78.7 292.5 80.7 290.5 82.5 289.4C84.3 288.3 85.9 287.7 87.9 287.5C89.9 287.3 92.1 287.9 94.6 288.3C97.1 288.8 100.0 290.1 102.7 290.2C105.4 290.3 108.0 288.8 110.8 288.8C113.6 288.8 118.2 291.1 119.4 290.2Z" fill="#53678f"/>
<g clip-path="url(#clc)">
<ellipse cx="150" cy="361" rx="72" ry="12" fill="#33466f" transform="rotate(-2 150 361)"/>
<ellipse cx="95" cy="350" rx="30" ry="15" fill="#2f4672"/>
<ellipse cx="212" cy="354" rx="24" ry="8" fill="#2f4670" transform="rotate(-18 212 354)"/>
<circle cx="45" cy="344" r="11" fill="#2f4d80"/>
<ellipse cx="146" cy="301" rx="10" ry="7" fill="#3a4a72"/>
<ellipse cx="90" cy="334" rx="12" ry="8" fill="#2a5590"/>
<ellipse cx="120" cy="353" rx="10" ry="5" fill="#3c5078"/>
<ellipse cx="165" cy="359" rx="16" ry="4" fill="#2a3c64" transform="rotate(-3 165 359)"/>
<ellipse cx="200" cy="363" rx="12" ry="4" fill="#3a4c78" transform="rotate(-8 200 363)"/>
<ellipse cx="100" cy="361" rx="12" ry="5" fill="#34507e" transform="rotate(5 100 361)"/>
<ellipse cx="135" cy="366" rx="12" ry="3.5" fill="#40527e" transform="rotate(4 135 366)"/>
<ellipse cx="180" cy="366" rx="10" ry="3" fill="#2e406a" transform="rotate(-6 180 366)"/>
<ellipse cx="72" cy="390" rx="26" ry="9" fill="#586b90" transform="rotate(-8 72 390)"/>
<ellipse cx="48" cy="396" rx="10" ry="4.5" fill="#4d6086" transform="rotate(-15 48 396)"/>
<ellipse cx="100" cy="389" rx="14" ry="5" fill="#5e7298" transform="rotate(-12 100 389)"/>
<ellipse cx="66" cy="386" rx="9" ry="5" fill="#46587c"/>
<circle cx="132.9" cy="287.5" r="13.5" fill="#4a7aa8"/>
<circle cx="126" cy="296" r="9" fill="#4d78a6"/>
<circle cx="150.4" cy="288.5" r="8" fill="#3f5f90"/>
<circle cx="138" cy="281" r="6.5" fill="#5585b2"/>
<ellipse cx="92" cy="309" rx="14" ry="21" fill="#2c66a8" transform="rotate(8 92 309)"/>
<ellipse cx="99" cy="327" rx="11" ry="9" fill="#2a5a98"/>
<ellipse cx="84" cy="318" rx="8" ry="10" fill="#2e70b0"/>
<ellipse cx="103" cy="309" rx="8" ry="7" fill="#2f9bd0"/>
<circle cx="93.3" cy="300.6" r="7.5" fill="#2a6db0"/>
<circle cx="86.5" cy="312.7" r="4.5" fill="#2f78b8"/>
<circle cx="100" cy="316" r="6" fill="#2c66a8"/>
<circle cx="108" cy="292.5" r="5" fill="#4a80b8"/>
<circle cx="98" cy="329" r="6" fill="#2e5e9c"/>
<circle cx="116" cy="305" r="7" fill="#56698f"/>
<circle cx="116.7" cy="318" r="8" fill="#5a6c98"/>
<circle cx="112" cy="330" r="7" fill="#4b5f8a"/>
<circle cx="104" cy="308.6" r="6" fill="#2f9bd0"/>
<circle cx="99" cy="305" r="4" fill="#35a2d4"/>
<circle cx="74.4" cy="321.4" r="5" fill="#2f78a8"/>
<circle cx="67.7" cy="338.3" r="5" fill="#2fa0d0"/>
<circle cx="82" cy="303" r="3.5" fill="#3a90c8"/>
<circle cx="82.5" cy="296.5" r="4" fill="#e88a78"/>
<circle cx="77.1" cy="302" r="4" fill="#e07878"/>
<circle cx="74.4" cy="311.3" r="5.2" fill="#b87090"/>
<circle cx="83.8" cy="322.1" r="3.3" fill="#e08080"/>
<circle cx="63.6" cy="328.8" r="4" fill="#d88088"/>
<circle cx="104" cy="324.8" r="4.6" fill="#c04a68"/>
<circle cx="104" cy="319" r="3" fill="#c85070"/>
<circle cx="112" cy="297.9" r="2.6" fill="#d0506a"/>
<circle cx="89.2" cy="290.5" r="4.2" fill="#f09048"/>
<circle cx="77.1" cy="310.7" r="3.5" fill="#f09450"/>
<circle cx="75.8" cy="331.5" r="4" fill="#f09a55"/>
<circle cx="55.6" cy="339.6" r="3.6" fill="#f0904a"/>
<circle cx="52.2" cy="328.8" r="5.4" fill="#5a7098"/>
<circle cx="43.5" cy="349.5" r="5" fill="#8a7fb0"/>
<circle cx="43.5" cy="339.6" r="5" fill="#2f5088"/>
<ellipse cx="120" cy="300.3" rx="4" ry="1.5" fill="#f09a50" transform="rotate(-8 120 300.3)"/>
<circle cx="55.6" cy="364.2" r="4" fill="#2fa0d0"/>
<ellipse cx="62" cy="362" rx="6" ry="3" fill="#e0607a" transform="rotate(25 62 362)"/>
<ellipse cx="92" cy="372" rx="9" ry="4.5" fill="#e0607a" transform="rotate(20 92 372)"/>
<ellipse cx="86" cy="370" rx="3" ry="7" fill="#e86a80" transform="rotate(-35 86 370)"/>
<ellipse cx="79.8" cy="373.6" rx="5" ry="4" fill="#2f70c0"/>
<ellipse cx="70" cy="356" rx="10" ry="5" fill="#7a4a78" transform="rotate(10 70 356)"/>
<ellipse cx="112.7" cy="367.3" rx="6" ry="2.5" fill="#c86080" transform="rotate(10 112.7 367.3)"/>
<ellipse cx="124.8" cy="362.6" rx="6" ry="3" fill="#3a50b0"/>
<ellipse cx="139.6" cy="356.5" rx="8" ry="3.5" fill="#7a5a88" transform="rotate(-10 139.6 356.5)"/>
<path d="M156 297L162 294L178 292L190 295L198 302L201 309L214 306L222 311L224 322L232 324L238 331L240 338L236 346L225 351L200 356L170 353L140 351L122 347L123 337L133 327L140 315L148 305Z" fill="#7f8eb6"/>
<circle cx="180" cy="305" r="11" fill="#8b99c0"/>
<circle cx="193" cy="309" r="8.5" fill="#8393bb"/>
<circle cx="171.9" cy="306" r="12" fill="#8e9cc4"/>
<circle cx="150.4" cy="312" r="8.5" fill="#8fa0c8"/>
<circle cx="190.8" cy="309.5" r="7.5" fill="#8796be"/>
<circle cx="204.2" cy="316" r="6" fill="#7a8ab0"/>
<circle cx="160" cy="322" r="13" fill="#8a99c0"/>
<circle cx="182" cy="322" r="13" fill="#8292ba"/>
<circle cx="146" cy="328" r="10" fill="#8897be"/>
<circle cx="196" cy="328" r="10" fill="#7c8cb4"/>
<circle cx="132" cy="336" r="9" fill="#7d8db5"/>
<circle cx="154.4" cy="326" r="8" fill="#9098c0"/>
<circle cx="170" cy="338" r="12" fill="#7585ad"/>
<circle cx="150" cy="342" r="10" fill="#7282aa"/>
<circle cx="190" cy="342" r="11" fill="#6f80a8"/>
<circle cx="126" cy="344" r="7" fill="#6f80a8"/>
<circle cx="206" cy="338" r="8" fill="#6a7ba3"/>
<circle cx="168" cy="301" r="6" fill="#98a4cc"/>
<circle cx="156" cy="316" r="5" fill="#9ba8cf"/>
<circle cx="213" cy="317" r="9.5" fill="#7687ab"/>
<circle cx="229" cy="333.5" r="9.5" fill="#60759b"/>
<circle cx="221" cy="326" r="6" fill="#6c7fa4"/>
<circle cx="218" cy="340" r="8" fill="#5a6f96"/>
<ellipse cx="180" cy="317.8" rx="6" ry="5" fill="#38a0d0"/>
<ellipse cx="174" cy="322" rx="3.5" ry="3" fill="#4aaad8"/>
<ellipse cx="131.5" cy="325.8" rx="6.5" ry="5" fill="#3a9fd0"/>
<ellipse cx="139" cy="322" rx="3.5" ry="3" fill="#45a5d5"/>
<ellipse cx="190.8" cy="327.2" rx="2.8" ry="4.4" fill="#f08c4c" transform="rotate(25 190.8 327.2)"/>
<ellipse cx="190" cy="341" rx="5" ry="3.5" fill="#3fa0d0"/>
<ellipse cx="122" cy="333" rx="4" ry="3" fill="#3f9acc"/>
<ellipse cx="150" cy="381" rx="46" ry="6" fill="#8a9cd0" transform="rotate(1 150 381)"/>
<ellipse cx="200" cy="379" rx="24" ry="6" fill="#8f9fd2" transform="rotate(-4 200 379)"/>
<ellipse cx="157" cy="372.7" rx="14" ry="3" fill="#a0b4dc" transform="rotate(-6 157 372.7)"/>
<ellipse cx="188" cy="371.5" rx="11" ry="2.6" fill="#e05868" transform="rotate(-14 188 371.5)"/>
<ellipse cx="163.8" cy="380" rx="12" ry="2.4" fill="#b8506e" transform="rotate(-8 163.8 380)"/>
<ellipse cx="135" cy="378" rx="9" ry="2.2" fill="#c87088" transform="rotate(6 135 378)"/>
<ellipse cx="206" cy="369" rx="10" ry="3" fill="#b87098" transform="rotate(-12 206 369)"/>
<ellipse cx="118" cy="381" rx="7" ry="3" fill="#7c8cc0"/>
<circle cx="250" cy="372" r="16" fill="#8a9ccc"/>
<circle cx="265" cy="366" r="14" fill="#8ea2d0"/>
<circle cx="270" cy="351" r="11" fill="#94a8d4"/>
<circle cx="241" cy="386" r="13" fill="#8093c2"/>
<circle cx="260" cy="386" r="12" fill="#8699c8"/>
<circle cx="229" cy="376" r="10" fill="#8a98c6"/>
<circle cx="239" cy="391" r="9.5" fill="#7488b0"/>
<circle cx="270" cy="345" r="8" fill="#a0b8dc"/>
<circle cx="258" cy="349" r="7" fill="#9db4d8"/>
<circle cx="275" cy="370" r="6" fill="#8fa4d2"/>
<circle cx="270.4" cy="349.7" r="4.2" fill="#40b0d8"/>
<circle cx="262" cy="365.6" r="4" fill="#48b4da"/>
<circle cx="254" cy="360" r="3.5" fill="#52b0d8"/>
<circle cx="278.9" cy="350.8" r="3" fill="#e07090"/>
<circle cx="277" cy="358" r="3" fill="#d878a0"/>
<circle cx="259.8" cy="373" r="3.6" fill="#f0a070"/>
<circle cx="268" cy="380" r="3" fill="#e8a890"/>
<ellipse cx="236.5" cy="355" rx="8" ry="4" fill="#f0906a" transform="rotate(-10 236.5 355)"/>
<ellipse cx="247" cy="355.5" rx="7" ry="4" fill="#e0607a" transform="rotate(-8 247 355.5)"/>
<ellipse cx="226" cy="362" rx="9" ry="3" fill="#d87a98" transform="rotate(-12 226 362)"/>
<ellipse cx="245" cy="380" rx="6" ry="3" fill="#e8b0a0" transform="rotate(-10 245 380)"/>
<ellipse cx="214" cy="371" rx="10" ry="4" fill="#c890b0" transform="rotate(-10 214 371)"/>
</g></g>
<g id="dog" filter="url(#bl2)">
<defs><filter id="bl2" x="-0.05" y="-0.05" width="1.1" height="1.1"><feGaussianBlur stdDeviation="0.35"/></filter></defs>
<path d="M147 433C152 435 158 435.8 164 436.2C178 437.5 192 438.2 203 439.2C214 441.5 224 447 231 456C237 464 240 474 238.5 484C237 491 230 495.5 220 496.5C206 497.5 192 496 182 494C172 492.5 160 491 150 490C130 492 112 494.5 98 496.5C90 498.5 82 499 79.5 497C77.5 495.5 77.8 493.5 79 492C72 493.5 65 493.5 62.6 491.5C61.4 489.5 62 487 64.5 486C72 483.5 82 480.5 92 477C98 474.5 102 471 104.5 466C103.5 458 103.6 448 105 440C107 436 110 434 114 433Z" fill="#f0a152"/>
<path d="M105 465C100 473 92 477 82 480.3C74 483 66 485 63 487C61.5 489 62 491.5 65 492.3C72 493.5 80 492 88 489.5C98 487 108 483 114 478Z" fill="#e89262"/>
<path d="M104 472C96 479 84 483.5 72 487C80 488 92 486 100 483C106 481 110 478 112 475Z" fill="#d08078"/>
<path d="M108 436C118 441 136 441 144 435C150 446 151 462 146 476C140 485 126 488 118 483C108 474 103 456 105 442Z" fill="#f0ae84"/>
<path d="M110 440C116 452 121 466 128 480C124 484 119 483.5 116 481C109 470 106 454 107 442Z" fill="#ecaa94"/>
<path d="M121 443C127 455 132 468 136 478C132 481 128 481 126 479C121 466 117 452 115 444Z" fill="#f4c8b0"/>
<path d="M134 440C142 436 150 438 153 446C156 458 155 474 150 489C138 491.5 122 493.5 108 495.5C98 497.5 88 499 82 498.5C78 497.5 77.5 494.5 80 492.5C88 490 98 487.5 108 484.5C118 481.5 124 478 127 472C130 462 130 450 134 440Z" fill="#f3a556"/>
<path d="M152 466C160 470 176 470 188 468C192 474 198 482 204 487C196 490 180 490.5 166 489.5C158 489 152 488.5 149 488C151 481 152 474 152 466Z" fill="#dc9a9c"/>
<ellipse cx="192" cy="485" rx="10" ry="4" fill="#c080a8" transform="rotate(8 192 485)"/>
<ellipse cx="164" cy="451.7" rx="7.8" ry="13.3" fill="#d9732f" transform="rotate(-8 164 451.7)"/>
<ellipse cx="152" cy="443" rx="3" ry="8.5" fill="#d9732f" transform="rotate(-14 152 443)"/>
<ellipse cx="196" cy="442.6" rx="10.7" ry="4.3" fill="#d87838" transform="rotate(4 196 442.6)"/>
<ellipse cx="210.3" cy="466.6" rx="24.4" ry="20.7" fill="#f5ab60" transform="rotate(-8 210.3 466.6)"/>
<ellipse cx="221" cy="476" rx="12" ry="9" fill="#eca488" transform="rotate(-30 221 476)"/>
<ellipse cx="226.2" cy="455" rx="5.5" ry="5.8" fill="#d87838" transform="rotate(-20 226.2 455)"/>
<ellipse cx="212" cy="493" rx="18" ry="4.2" fill="#ee9a4c" transform="rotate(-3 212 493)"/>
<path d="M231.5 456.5C239 464 243.2 474 243 482C242.6 489 238 493.5 230 495.8C222 497.8 214 498 208.8 497" stroke="#c8682c" stroke-width="6.4" fill="none" stroke-linecap="round"/>
<path d="M231.5 456.5C239 464 243.2 474 243 482C242.6 489 238 493.5 230 495.8C222 497.8 214 498 208.8 497" stroke="#ea8a44" stroke-width="5.2" fill="none" stroke-linecap="round"/>
<path d="M238.6 484C237.5 489 233 492 226 493.4" stroke="#f8d8c0" stroke-width="2.6" fill="none" stroke-linecap="round"/>
<ellipse cx="181" cy="489.3" rx="7.6" ry="2.8" fill="#f0c4c0" transform="rotate(-6 181 489.3)"/>
<ellipse cx="192" cy="492.6" rx="11" ry="3.8" fill="#fbe2d2" transform="rotate(-3 192 492.6)"/>
<ellipse cx="69" cy="489.6" rx="7" ry="3.6" fill="#f8d4c0" transform="rotate(-10 69 489.6)"/>
<ellipse cx="87" cy="495.2" rx="8.5" ry="3.6" fill="#fbe0cc" transform="rotate(-6 87 495.2)"/>
<path d="M66 487.5V492M69.5 487V492.6M83.5 493V498M87.5 492.6V498.4" stroke="#c8785a" stroke-width="0.6" fill="none"/>
<path d="M112 402C105 401.5 98.5 404.5 96.3 409.5C95.3 416 98 424 103 427.5C106.5 425.5 109 420 109.6 413Z" fill="#8c4a5c"/>
<path d="M112 402C106 402 100 404 97 408C101 406.5 106 406.5 110 408Z" fill="#b85a38"/>
<path d="M137.8 400.3C145 400.5 151 404.5 152.8 410.5C153.6 417 151.5 424 147 427.5C144 425 142 419 141.4 412Z" fill="#9a5262"/>
<path d="M137.8 400.3C143 400.8 148 403.5 151 407.5C147.5 405.5 143.5 405.3 140.5 406.5Z" fill="#b85a38"/>
<path d="M125.5 399.2C133.5 399 140 402.5 141.8 409C143.3 415 142.8 423 140.5 429C138 436 133 440.5 127.2 440.8C121 440.5 115.2 436 112 429C109.3 423 108.2 414 109.6 408C111.6 402 117.5 399.2 125.5 399.2Z" fill="#ea9048"/>
<path d="M110.4 404.5C111 408 111 413 110.3 418.5L108.8 414C108.6 410 109.2 407 110.4 404.5ZM140.8 404C142.6 408 143.2 413 142.6 418.6L140.9 414C141 410 140.9 407 140.8 404Z" fill="#2c1a20"/>
<ellipse cx="126.5" cy="406" rx="4.2" ry="8" fill="#d9762f"/>
<ellipse cx="115.5" cy="424" rx="4.5" ry="6" fill="#f0a862"/>
<ellipse cx="139" cy="424" rx="3.6" ry="6" fill="#f0a862"/>
<ellipse cx="127.3" cy="429.5" rx="10.8" ry="9.2" fill="#f4c4a4"/>
<ellipse cx="127.3" cy="419.5" rx="5" ry="5.5" fill="#f2b282"/>
<circle cx="118.2" cy="412.8" r="4.55" fill="#5a3020"/>
<circle cx="118.2" cy="412.8" r="4.1" fill="#ffffff"/>
<circle cx="118.60000000000001" cy="413" r="2.9" fill="#120d0c"/>
<circle cx="119.3" cy="412" r="0.7" fill="#ffffff"/>
<circle cx="134.6" cy="412.8" r="4.35" fill="#5a3020"/>
<circle cx="134.6" cy="412.8" r="3.8999999999999995" fill="#ffffff"/>
<circle cx="134.2" cy="413" r="2.9" fill="#120d0c"/>
<circle cx="134.9" cy="412" r="0.7" fill="#ffffff"/>
<path d="M113 406.2C116 403 120 401.8 123.4 402.4" stroke="#3a1a10" stroke-width="2.6" fill="none" stroke-linecap="round"/>
<path d="M130.8 401.8C134 401.6 137.5 403 139.6 405.6" stroke="#3a1a10" stroke-width="2.6" fill="none" stroke-linecap="round"/>
<ellipse cx="127.7" cy="425.7" rx="7" ry="5.4" fill="#121012"/>
<ellipse cx="126.2" cy="423.4" rx="2.4" ry="1.1" fill="#4a4650"/>
<path d="M115.8 433C118.5 435.4 122 435.8 125.5 435C129 435.6 131.5 435.4 133.4 434.6" stroke="#4a2014" stroke-width="0.9" fill="none" stroke-linecap="round"/>
</g>
<g id="dark" filter="url(#bl2)">
<path d="M770.5 409.5L773.5 412L772.5 413.2L776.5 415.5L775.5 417L779 419.5M784.2 404.8L783.2 409L784.6 410L782 415.5M763.3 428L767 428.6L766.5 429.8L770.5 431M817.4 425.2L815.6 427.5L816.4 428.3L814.8 430" stroke="#e0566a" stroke-width="1.1" fill="none" stroke-linejoin="round"/>
<path d="M772 421L778 424L783 423M776 418L781 421" stroke="#b03050" stroke-width="0.8" fill="none"/>
<circle cx="769.3" cy="449" r="6" fill="#0f0d13" stroke="#9e9ca6" stroke-width="0.8"/>
<circle cx="779.4" cy="449.6" r="5.6" fill="#0f0d13" stroke="#9e9ca6" stroke-width="0.8"/>
<circle cx="789.6" cy="452" r="6.6" fill="#0f0d13" stroke="#9e9ca6" stroke-width="0.8"/>
<circle cx="800.3" cy="452" r="6.2" fill="#0f0d13" stroke="#9e9ca6" stroke-width="0.8"/>
<circle cx="810.4" cy="448.4" r="5.6" fill="#0f0d13" stroke="#9e9ca6" stroke-width="0.8"/>
<path d="M766.3 441C765 436 767 431 770 428C771 423 776 420.5 781 421.5C782 413 787 407 793 406.8C799 406.6 803 410 805 415C809 416 812 420 812 425C815.5 427 817 431 816.6 435C817 438 816.8 442 815 445C800 448 780 448 767 445C765.6 443.5 765.8 442 766.3 441Z" fill="#110e15"/>
<circle cx="792" cy="416.7" r="10" fill="#15121a"/>
<circle cx="803.9" cy="423.8" r="8.3" fill="#14111a"/>
<circle cx="775.3" cy="429.8" r="8.3" fill="#130f18"/>
<circle cx="811" cy="434.6" r="6" fill="#141019"/>
<circle cx="797.9" cy="432.2" r="9.5" fill="#0f0c13"/>
<ellipse cx="789.5" cy="410.5" rx="5.5" ry="2.6" fill="#2c2933" transform="rotate(-15 789.5 410.5)"/>
<ellipse cx="803" cy="418" rx="4.5" ry="2.2" fill="#2c2933" transform="rotate(-15 803 418)"/>
<ellipse cx="796" cy="425.5" rx="5.5" ry="2.4" fill="#2c2933" transform="rotate(-15 796 425.5)"/>
<ellipse cx="773.5" cy="424.5" rx="4" ry="2" fill="#2c2933" transform="rotate(-15 773.5 424.5)"/>
<circle cx="791.2" cy="477" r="6.7" fill="#100e14" stroke="#6a6872" stroke-width="0.5"/>
<circle cx="779" cy="480.4" r="5" fill="#100e14" stroke="#6a6872" stroke-width="0.5"/>
<circle cx="804" cy="483.7" r="6.1" fill="#100e14" stroke="#6a6872" stroke-width="0.5"/>
<circle cx="811.9" cy="491.5" r="5" fill="#100e14" stroke="#6a6872" stroke-width="0.5"/>
<circle cx="768.9" cy="491.5" r="5.6" fill="#100e14" stroke="#6a6872" stroke-width="0.5"/>
<circle cx="807.4" cy="493.2" r="5" fill="#100e14" stroke="#6a6872" stroke-width="0.5"/>
<circle cx="791.8" cy="486" r="6.7" fill="#100e14" stroke="#c4c2cc" stroke-width="0.9"/>
<circle cx="780.1" cy="489.9" r="6.7" fill="#100e14" stroke="#c4c2cc" stroke-width="0.9"/>
<circle cx="799.6" cy="494.3" r="6.7" fill="#100e14" stroke="#c4c2cc" stroke-width="0.9"/>
<circle cx="788.4" cy="495.4" r="6.1" fill="#100e14" stroke="#c4c2cc" stroke-width="0.9"/>
</g>
</svg>
</body></html>
